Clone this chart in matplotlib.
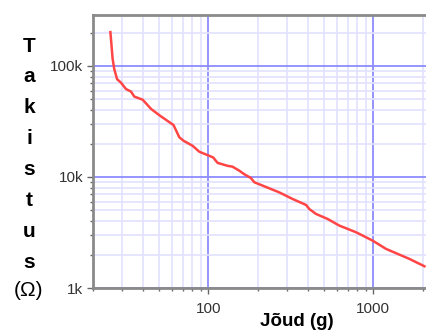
import matplotlib
matplotlib.use('Agg')
import matplotlib.pyplot as plt
from matplotlib.ticker import FixedLocator, FixedFormatter, LogLocator, NullFormatter

plt.rcParams['font.family'] = ['Liberation Sans', 'DejaVu Sans']

# Force (g) vs resistance (ohm)
force = [25.5, 26.3, 26.9, 28, 29.5, 31.7, 34, 35.6, 40, 45, 50.5, 56.6,
         61.5, 66.7, 70.8, 80.3, 88.1, 100.4, 107, 113.8, 131, 140, 154,
         165, 181, 190, 213, 269, 324, 391, 409, 449, 528, 622, 785, 991,
         1194, 1652, 2040]
resistance = [202e3, 116e3, 94e3, 76e3, 71e3, 62e3, 58.8e3, 53e3, 49.7e3,
              41e3, 36e3, 32e3, 29.4e3, 22.8e3, 21.2e3, 19.1e3, 16.9e3,
              15.6e3, 15.0e3, 13.4e3, 12.6e3, 12.4e3, 11.4e3, 10.6e3, 9.8e3,
              8.96e3, 8.37e3, 7.27e3, 6.34e3, 5.6e3, 5.15e3, 4.65e3, 4.19e3,
              3.65e3, 3.18e3, 2.67e3, 2.25e3, 1.83e3, 1.57e3]

x_ticks = [100, 1000]
x_ticklabels = ['100', '1000']
y_ticks = [1e3, 1e4, 1e5]
y_ticklabels = ['1k', '10k', '100k']

fig = plt.figure(figsize=(4.26, 3.33), dpi=100)
ax = fig.add_axes([93 / 426, 45 / 333, 1 - 93 / 426, 273 / 333])

ax.plot(force, resistance, color='#ff4545', lw=1.8, zorder=3)

ax.set_xscale('log')
ax.set_yscale('log')
ax.set_xlim(20, 2085)
ax.set_ylim(1e3, 2.88e5)

ax.xaxis.set_major_locator(FixedLocator(x_ticks))
ax.xaxis.set_major_formatter(FixedFormatter(x_ticklabels))
ax.yaxis.set_major_locator(FixedLocator(y_ticks))
ax.yaxis.set_major_formatter(FixedFormatter(y_ticklabels))
for axis in (ax.xaxis, ax.yaxis):
    axis.set_minor_locator(LogLocator(base=10, subs=range(2, 10)))
    axis.set_minor_formatter(NullFormatter())

# grid
ax.grid(which='major', color='#8c8cff', lw=1.3, zorder=1)
ax.grid(which='minor', color='#e2e2ff', lw=1.2, zorder=0)

for side in ('left', 'bottom', 'top'):
    ax.spines[side].set_color('#8a8a8a')
    ax.spines[side].set_linewidth(2)
ax.spines['right'].set_visible(False)

ax.tick_params(which='major', length=4, width=1, color='#666666',
               labelsize=11, labelcolor='#333333', pad=3)
ax.tick_params(which='minor', length=2.5, width=1, color='#666666')
ax.tick_params(axis='x', which='both', pad=6)

# axis labels
fig.text(297 / 426, 1 - 322 / 333, 'Jõud (g)', ha='center', va='center',
         fontsize=13.5, fontweight='bold')
ylabel_letters = list('Takistus')
for i, ch in enumerate(ylabel_letters):
    fig.text(29 / 426, 1 - (46 + i * 30.9) / 333, ch, ha='center',
             va='center', fontsize=15, fontweight='bold')
fig.text(28 / 426, 1 - 291 / 333, '(Ω)', ha='center', va='center',
         fontsize=15)

fig.savefig('out.png', dpi=100)
